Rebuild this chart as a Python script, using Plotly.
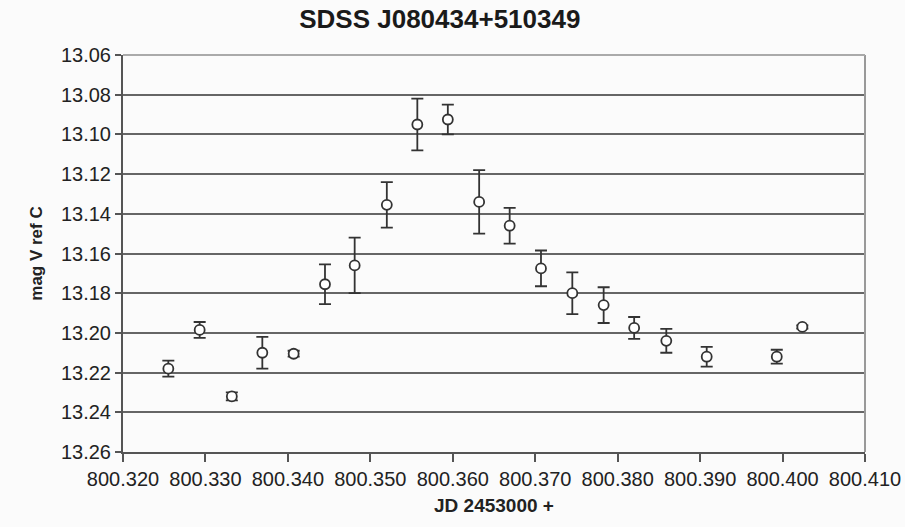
import plotly.graph_objects as go

jd = [800.3255, 800.3293, 800.3332, 800.3369, 800.3407, 800.3445, 800.3481,
      800.3520, 800.3557, 800.3594, 800.3632, 800.3669, 800.3707, 800.3745,
      800.3783, 800.3820, 800.3859, 800.3908, 800.3993, 800.4024]
mag = [13.218, 13.1985, 13.232, 13.210, 13.2105, 13.1755, 13.166,
       13.1355, 13.095, 13.0925, 13.134, 13.146, 13.1675, 13.180,
       13.186, 13.1975, 13.204, 13.212, 13.212, 13.197]
err = [0.004, 0.004, 0.002, 0.008, 0.0015, 0.010, 0.014,
       0.0115, 0.013, 0.0075, 0.016, 0.009, 0.009, 0.0105,
       0.009, 0.0055, 0.006, 0.005, 0.0035, 0.0008]

y_ticks = [13.06, 13.08, 13.10, 13.12, 13.14, 13.16, 13.18, 13.20, 13.22, 13.24, 13.26]
x_ticks = [800.32, 800.33, 800.34, 800.35, 800.36, 800.37, 800.38, 800.39, 800.40, 800.41]

fig = go.Figure()
fig.add_trace(go.Scatter(
    x=jd, y=mag, mode="markers",
    marker=dict(symbol="circle", size=10, color="white",
                line=dict(color="#333333", width=1.8)),
    error_y=dict(type="data", array=err, visible=True,
                 color="#333333", thickness=1.8, width=6),
    showlegend=False,
))

font = "Liberation Sans, Arial, sans-serif"
fig.update_layout(
    width=905, height=527,
    margin=dict(l=123, r=40, t=55, b=75),
    paper_bgcolor="#fbfbfb", plot_bgcolor="#fbfbfb",
    title=dict(text="<b>SDSS J080434+510349</b>", x=0.486, xanchor="center",
               y=0.964, yanchor="middle",
               font=dict(family=font, size=26, color="#1a1a1a")),
    font=dict(family=font, size=20, color="#222222"),
)
fig.update_xaxes(
    range=[800.32, 800.41], tickvals=x_ticks,
    ticktext=[f"{v:.3f}" for v in x_ticks],
    showgrid=False, zeroline=False, automargin=False,
    showline=True, linecolor="#555555", linewidth=2,
    ticks="outside", ticklen=8, tickcolor="#555555", tickwidth=1.5,
    tickfont=dict(size=20),
    title=dict(text="<b>JD 2453000 +</b>", font=dict(size=19), standoff=10),
)
fig.update_yaxes(
    range=[13.26, 13.06], tickvals=y_ticks,
    ticktext=[f"{v:.2f}" for v in y_ticks],
    showgrid=True, gridcolor="#666666", gridwidth=1.5, zeroline=False,
    automargin=False,
    showline=True, linecolor="#555555", linewidth=2,
    ticks="outside", ticklen=6, tickcolor="#555555", tickwidth=1.5,
    tickfont=dict(size=20),
    title=dict(text="<b>mag V ref C</b>", font=dict(size=17), standoff=14),
)
# right and top border of plot area
fig.add_shape(type="line", xref="paper", yref="paper", x0=1, x1=1, y0=0, y1=1,
              line=dict(color="#999999", width=2))
fig.add_shape(type="line", xref="paper", yref="paper", x0=0, x1=1, y0=1, y1=1,
              line=dict(color="#aaaaaa", width=2))

fig.write_html("out.html")
